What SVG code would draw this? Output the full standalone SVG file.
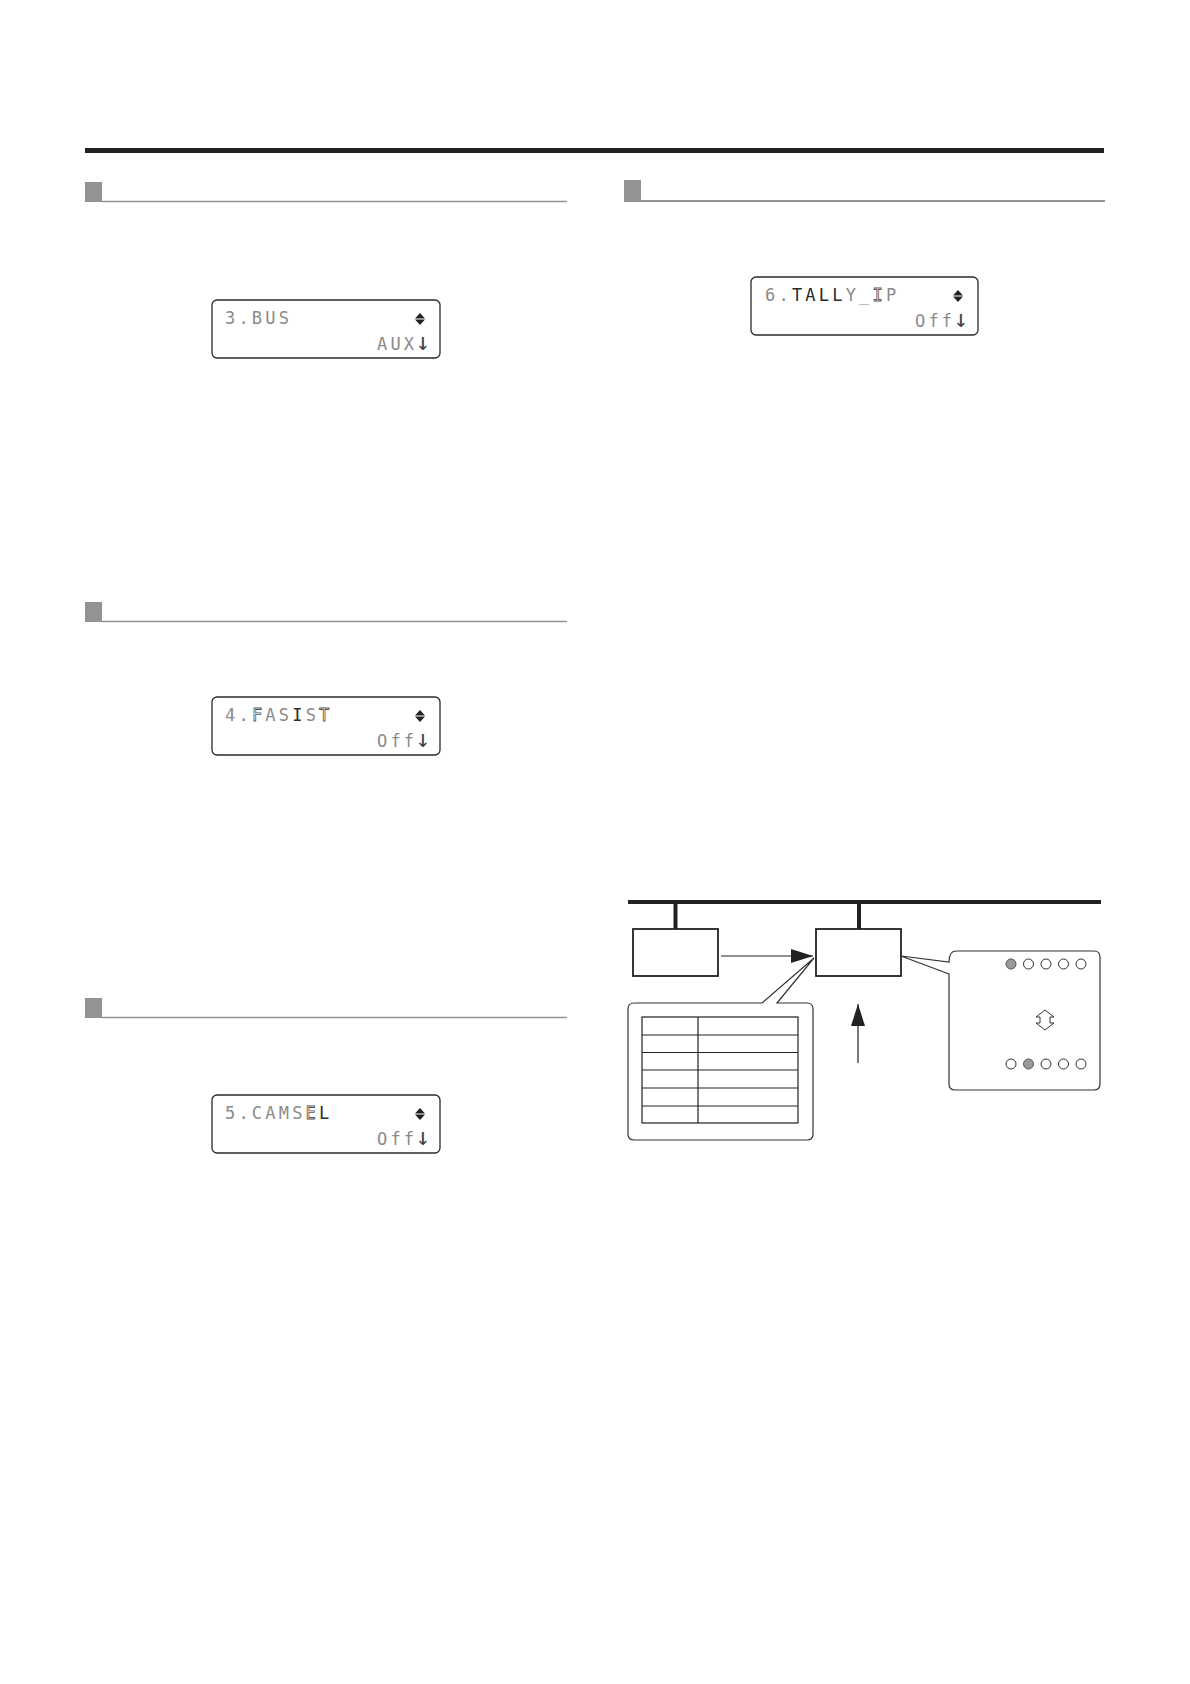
<svg xmlns="http://www.w3.org/2000/svg" width="1190" height="1684" viewBox="0 0 1190 1684">
<style>
.sq{fill:#939393}
.hl{stroke:#939393;stroke-width:1.5;fill:none}
.lcd{fill:#fff;stroke:#2a2a2a;stroke-width:1.3}
.t{font-family:"DejaVu Sans Mono","Liberation Mono",monospace;font-size:17px;letter-spacing:3.2px;fill:#8a8a8a}
.d{fill:#2a2a2a}
.o{fill:#fff;stroke:#555;stroke-width:0.8}
.ar{font-size:24px;fill:#444}
.ud{fill:#222}
.box{fill:#fff;stroke:#222;stroke-width:1.8}
.ln{stroke:#222;stroke-width:1.2;fill:none}
.thick{stroke:#222;stroke-width:4;fill:none}
.co{fill:#fff;stroke:#333;stroke-width:1.2}
.tb{fill:none;stroke:#222;stroke-width:1.2}
.led{fill:#fff;stroke:#333;stroke-width:1}
.on{fill:#999;stroke:#555;stroke-width:1}
</style>
<defs>
<marker id="ah" viewBox="0 0 22 14" refX="22" refY="7" markerWidth="22" markerHeight="14" markerUnits="userSpaceOnUse" orient="auto">
<path d="M0,0 L22,7 L0,14 Z" fill="#222"/>
</marker>
</defs>
<rect x="85" y="148" width="1019" height="5" fill="#231f20"/>

<g id="header-1"><rect class="sq" x="85" y="182" width="17" height="20"/><line class="hl" x1="102" y1="201.5" x2="567" y2="201.5"/></g>
<g id="header-2"><rect class="sq" x="85" y="602" width="17" height="20"/><line class="hl" x1="102" y1="621.5" x2="567" y2="621.5"/></g>
<g id="header-3"><rect class="sq" x="85" y="998" width="17" height="20"/><line class="hl" x1="102" y1="1017.5" x2="567" y2="1017.5"/></g>
<g id="header-4"><rect class="sq" x="624" y="180" width="17" height="22"/><line class="hl" x1="641" y1="201" x2="1105" y2="201" style="stroke-width:2"/></g>

<g id="lcd-bus">
<rect class="lcd" x="212" y="300" width="228" height="58" rx="5"/>
<text class="t" x="225" y="324">3.BUS</text>
<text class="t" x="377" y="350">AUX<tspan class="ar" dx="-1.5">↓</tspan></text>
<path class="ud" d="M420,313 L425,318.5 L415,318.5 Z M420,325 L425,319.5 L415,319.5 Z"/>
</g>
<g id="lcd-fasist">
<rect class="lcd" x="212" y="697" width="228" height="58" rx="5"/>
<text class="t" x="225" y="721">4.<tspan class="o">F</tspan>AS<tspan class="d">I</tspan>S<tspan class="o">T</tspan></text>
<text class="t" x="377" y="747">Off<tspan class="ar" dx="-1.5">↓</tspan></text>
<path class="ud" d="M420,710 L425,715.5 L415,715.5 Z M420,722 L425,716.5 L415,716.5 Z"/>
</g>
<g id="lcd-camsel">
<rect class="lcd" x="212" y="1095" width="228" height="58" rx="5"/>
<text class="t" x="225" y="1119">5.CAMS<tspan class="o">E</tspan><tspan class="d">L</tspan></text>
<text class="t" x="377" y="1145">Off<tspan class="ar" dx="-1.5">↓</tspan></text>
<path class="ud" d="M420,1108 L425,1113.5 L415,1113.5 Z M420,1120 L425,1114.5 L415,1114.5 Z"/>
</g>
<g id="lcd-tally">
<rect class="lcd" x="751" y="277" width="227" height="58" rx="5"/>
<text class="t" x="765" y="301">6.<tspan class="d">TALL</tspan>Y_<tspan class="o">I</tspan>P</text>
<text class="t" x="915" y="327">Off<tspan class="ar" dx="-1.5">↓</tspan></text>
<path class="ud" d="M958,290 L963,295.5 L953,295.5 Z M958,302 L963,296.5 L953,296.5 Z"/>
</g>

<g id="bus"><line class="thick" x1="628" y1="902" x2="1101" y2="902"/></g>
<g id="box-left"><rect class="box" x="633" y="929" width="85" height="47"/></g>
<g id="box-right"><rect class="box" x="816" y="929" width="85" height="47"/></g>

<g id="callout-table">
<path class="co" d="M762,1003 L814,958 L777,1003 L807,1003 Q813,1003 813,1009 L813,1134 Q813,1140 807,1140 L634,1140 Q628,1140 628,1134 L628,1009 Q628,1003 634,1003 Z"/>
<rect class="tb" x="642" y="1017" width="156" height="106"/>
<line class="tb" x1="698" y1="1017" x2="698" y2="1123"/>
<line class="tb" x1="642" y1="1035" x2="798" y2="1035"/>
<line class="tb" x1="642" y1="1052.5" x2="798" y2="1052.5"/>
<line class="tb" x1="642" y1="1070" x2="798" y2="1070"/>
<line class="tb" x1="642" y1="1088" x2="798" y2="1088"/>
<line class="tb" x1="642" y1="1106" x2="798" y2="1106"/>
</g>

<g id="callout-leds">
<path class="co" d="M949,974 L901,956 L949,962 Q949,951 956,951 L1094,951 Q1100,951 1100,957 L1100,1084 Q1100,1090 1094,1090 L955,1090 Q949,1090 949,1084 Z"/>
<circle class="on" cx="1011" cy="964" r="5"/>
<circle class="led" cx="1028.5" cy="964" r="5"/>
<circle class="led" cx="1046" cy="964" r="5"/>
<circle class="led" cx="1063.5" cy="964" r="5"/>
<circle class="led" cx="1081" cy="964" r="5"/>
<path d="M1045,1010 L1054,1017 L1050,1017 L1050,1023 L1054,1023 L1045,1030 L1036,1023 L1040,1023 L1040,1017 L1036,1017 Z" fill="#fff" stroke="#333" stroke-width="1"/>
<circle class="led" cx="1011" cy="1064" r="5"/>
<circle class="on" cx="1028.5" cy="1064" r="5"/>
<circle class="led" cx="1046" cy="1064" r="5"/>
<circle class="led" cx="1063.5" cy="1064" r="5"/>
<circle class="led" cx="1081" cy="1064" r="5"/>
</g>

<g id="connectors">
<line class="thick" x1="675.5" y1="902" x2="675.5" y2="929"/>
<line class="thick" x1="859" y1="902" x2="859" y2="929"/>
<line class="ln" x1="721" y1="956" x2="813" y2="956" marker-end="url(#ah)"/>
<line class="ln" x1="858" y1="1063" x2="858" y2="1004" marker-end="url(#ah)"/>
</g>
</svg>
